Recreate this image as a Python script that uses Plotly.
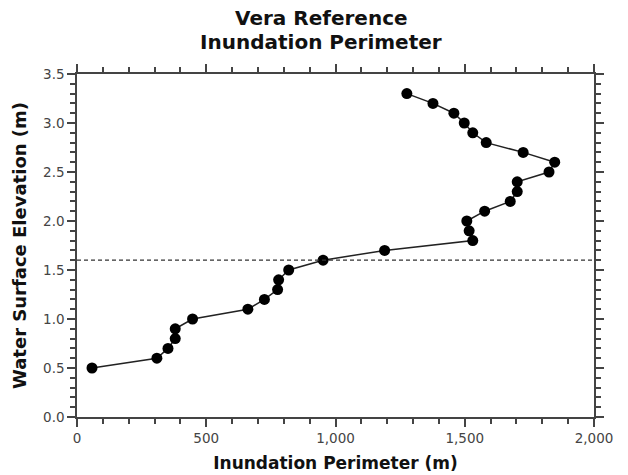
import plotly.graph_objects as go

# Périmètre inondé (m) vs élévation de la surface de l'eau (m)
perimetre = [58, 309, 352, 380, 380, 447, 661, 725, 776, 780, 819, 952,
             1190, 1531, 1517, 1508, 1577, 1676, 1703, 1703, 1826, 1848,
             1726, 1583, 1531, 1498, 1458, 1377, 1276]
elevation = [0.5, 0.6, 0.7, 0.8, 0.9, 1.0, 1.1, 1.2, 1.3, 1.4, 1.5, 1.6,
             1.7, 1.8, 1.9, 2.0, 2.1, 2.2, 2.3, 2.4, 2.5, 2.6,
             2.7, 2.8, 2.9, 3.0, 3.1, 3.2, 3.3]
niveau_ref = 1.6
titres = ["Vera Reference", "Inundation Perimeter"]

fig = go.Figure()
fig.add_trace(go.Scatter(
    x=perimetre, y=elevation, mode="lines+markers",
    line=dict(color="#222222", width=1.5),
    marker=dict(color="black", size=11),
    showlegend=False,
))
fig.add_hline(y=niveau_ref, line=dict(color="#333333", width=1.3, dash="4px,3px"))

axe = dict(showline=True, linecolor="#444444", linewidth=1.5, mirror="ticks",
           ticks="outside", tickcolor="#444444", tickwidth=1.5, ticklen=8,
           showgrid=False, zeroline=False, automargin=False,
           tickfont=dict(family="DejaVu Sans", size=13.5, color="#444444"))

fig.update_xaxes(range=[0, 2000], dtick=500, tickformat=",",
                 minor=dict(ticks="outside", dtick=100, ticklen=5,
                            tickcolor="#444444", tickwidth=1.5),
                 title=dict(text="<b>Inundation Perimeter (m)</b>", standoff=12,
                            font=dict(family="DejaVu Sans", size=17, color="#111111")),
                 **axe)
fig.update_yaxes(range=[0, 3.5], dtick=0.5, tickformat=".1f",
                 minor=dict(ticks="outside", dtick=0.1, ticklen=5,
                            tickcolor="#444444", tickwidth=1.5),
                 title=dict(text="<b>Water Surface Elevation (m)</b>", standoff=12,
                            font=dict(family="DejaVu Sans", size=18, color="#111111")),
                 **axe)

# titre sur deux lignes, espacement comme la référence
for i, t in enumerate(titres):
    fig.add_annotation(text=f"<b>{t}</b>", xref="paper", yref="paper",
                       x=0.472, y=1 + (56 - 24 * i) / 343, showarrow=False,
                       xanchor="center", yanchor="middle",
                       font=dict(family="DejaVu Sans", size=20, color="#111111"))

fig.update_layout(
    width=628, height=475,
    margin=dict(l=77, r=34, t=74, b=58),
    plot_bgcolor="white", paper_bgcolor="white",
)

fig.write_html("out.html", config={"displayModeBar": False},
               post_script="document.body.style.margin='0';")
